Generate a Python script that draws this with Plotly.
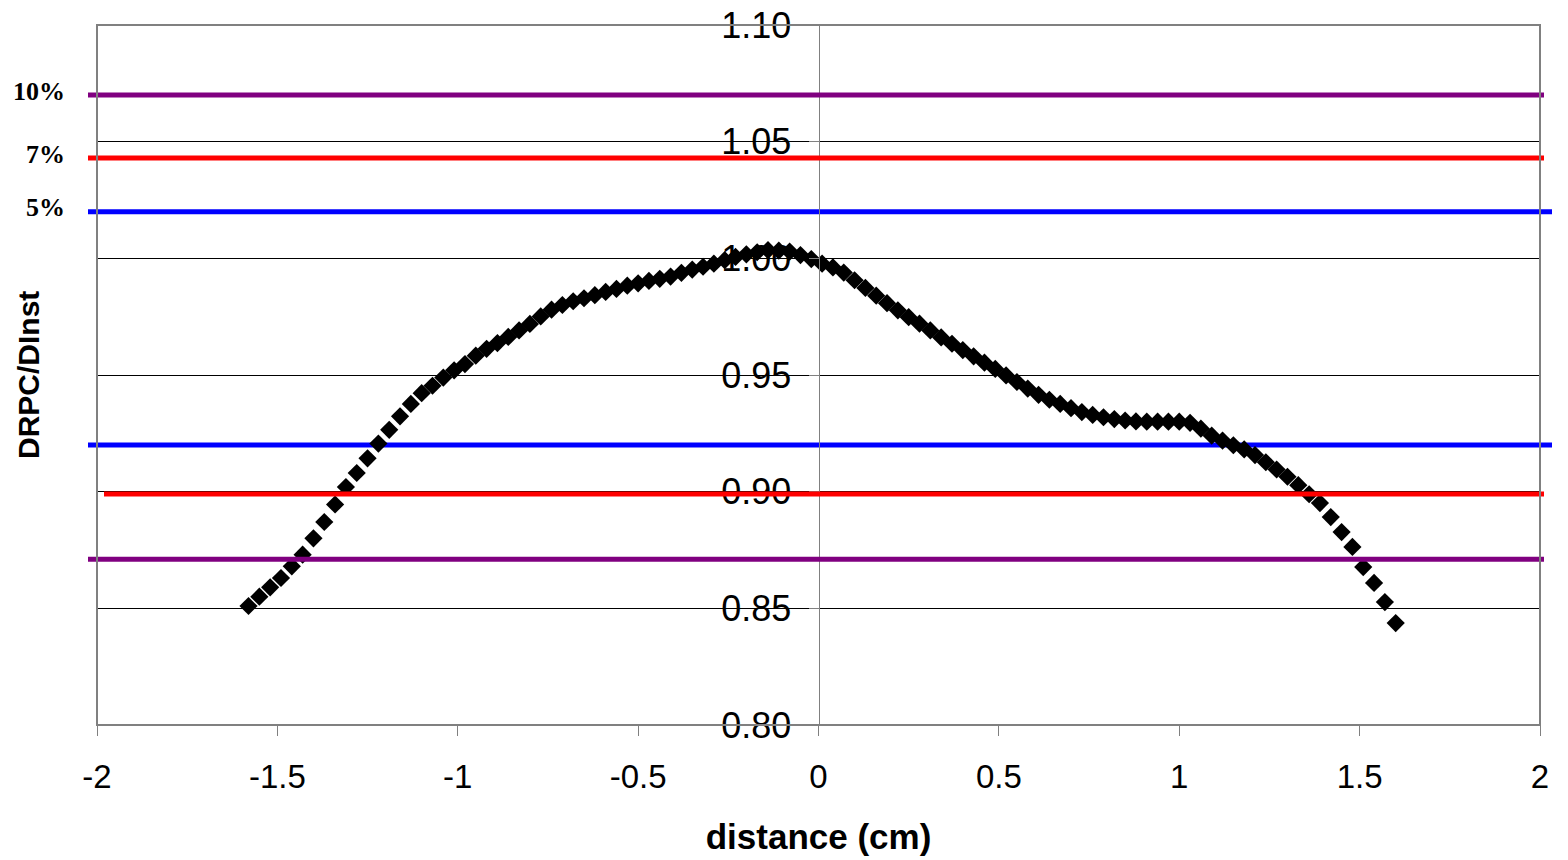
import plotly.graph_objects as go

# ---- data ----
distance_cm = [-1.58, -1.55, -1.52, -1.49, -1.46, -1.43, -1.40, -1.37, -1.34, -1.31,
               -1.28, -1.25, -1.22, -1.19, -1.16, -1.13, -1.10, -1.07, -1.04, -1.01,
               -0.98, -0.95, -0.92, -0.89, -0.86, -0.83, -0.80, -0.77, -0.74, -0.71,
               -0.68, -0.65, -0.62, -0.59, -0.56, -0.53, -0.50, -0.47, -0.44, -0.41,
               -0.38, -0.35, -0.32, -0.29, -0.26, -0.23, -0.20, -0.17, -0.14, -0.11,
               -0.08, -0.05, -0.02, 0.01, 0.04, 0.07, 0.10, 0.13, 0.16, 0.19,
               0.22, 0.25, 0.28, 0.31, 0.34, 0.37, 0.40, 0.43, 0.46, 0.49,
               0.52, 0.55, 0.58, 0.61, 0.64, 0.67, 0.70, 0.73, 0.76, 0.79,
               0.82, 0.85, 0.88, 0.91, 0.94, 0.97, 1.00, 1.03, 1.06, 1.09,
               1.12, 1.15, 1.18, 1.21, 1.24, 1.27, 1.30, 1.33, 1.36, 1.39,
               1.42, 1.45, 1.48, 1.51, 1.54, 1.57, 1.60]

ratio = [0.851, 0.855, 0.859, 0.863, 0.868, 0.873, 0.880, 0.887, 0.8945, 0.902,
         0.908, 0.9143, 0.9206, 0.9265, 0.9323, 0.9376, 0.9422, 0.9454, 0.9489, 0.952,
         0.9547, 0.9583, 0.9612, 0.9637, 0.9663, 0.9691, 0.9719, 0.9751, 0.978, 0.980,
         0.9816, 0.9829, 0.9842, 0.9856, 0.9869, 0.9883, 0.9893, 0.9903, 0.9912, 0.9922,
         0.9938, 0.9952, 0.9964, 0.9977, 0.9992, 1.0006, 1.0017, 1.0026, 1.0035, 1.0033,
         1.0029, 1.0014, 0.9997, 0.9977, 0.9961, 0.9939, 0.9906, 0.9873, 0.984, 0.9808,
         0.9777, 0.9748, 0.972, 0.9691, 0.9661, 0.9634, 0.9607, 0.958, 0.9553, 0.9526,
         0.9498, 0.947, 0.9442, 0.9415, 0.9394, 0.9376, 0.9358, 0.9341, 0.9329, 0.9319,
         0.9311, 0.9305, 0.9301, 0.930, 0.930, 0.930, 0.930, 0.9295, 0.927, 0.924,
         0.9219, 0.9199, 0.9181, 0.9157, 0.9126, 0.9095, 0.9064, 0.9028, 0.8989, 0.8951,
         0.8891, 0.8827, 0.8763, 0.8677, 0.8609, 0.8527, 0.8437]

limit_values = [1.070, 1.043, 1.020, 0.920, 0.899, 0.871]
limit_colors = ["#800080", "#FF0000", "#0000FF", "#0000FF", "#FF0000", "#800080"]
limit_labels = ["10%", "7%", "5%", None, None, None]

x_tickvals = [-2, -1.5, -1, -0.5, 0, 0.5, 1, 1.5, 2]
x_ticktext = ["-2", "-1.5", "-1", "-0.5", "0", "0.5", "1", "1.5", "2"]
y_tickvals = [0.80, 0.85, 0.90, 0.95, 1.00, 1.05, 1.10]
y_ticktext = ["0.80", "0.85", "0.90", "0.95", "1.00", "1.05", "1.10"]

# ---- layout geometry ----
W, H = 1568, 860
ML, MR, MT, MB = 97, 28, 25, 135
PW = W - ML - MR


def px_to_paper(px):
    return (px - ML) / PW


# horizontal extents (pixels) of each limit line
limit_px = [(88, 1544), (88, 1544), (88, 1552), (88, 1552), (104, 1544), (88, 1544)]

SANS = "Arial, Liberation Sans, sans-serif"
SERIF = "Times New Roman, Liberation Serif, serif"

fig = go.Figure()

fig.add_trace(go.Scatter(
    x=distance_cm, y=ratio, mode="markers",
    marker=dict(symbol="diamond", size=14, color="black", line=dict(width=0)),
    showlegend=False, cliponaxis=False,
))

shapes = []
annotations = []
for val, col, lab, (p0, p1) in zip(limit_values, limit_colors, limit_labels, limit_px):
    shapes.append(dict(
        type="line", xref="paper", yref="y",
        x0=px_to_paper(p0), x1=px_to_paper(p1), y0=val, y1=val,
        line=dict(color=col, width=5),
        layer="below" if col == "#0000FF" else "above",
    ))
    if lab:
        annotations.append(dict(
            text="<b>%s</b>" % lab, xref="paper", yref="y",
            x=px_to_paper(67), y=val, xanchor="right", yanchor="middle", yshift=4,
            showarrow=False, font=dict(family=SERIF, size=26, color="black"),
        ))

# plot area frame
shapes.append(dict(
    type="rect", xref="x domain", yref="y domain", x0=0, x1=1, y0=0, y1=1,
    line=dict(color="#808080", width=2), layer="above",
))

annotations.append(dict(
    text="<b>DRPC/DInst</b>", xref="paper", yref="paper",
    x=px_to_paper(28), y=0.5, xanchor="center", yanchor="middle", textangle=-90,
    showarrow=False, font=dict(family=SANS, size=30, color="black"),
))

fig.update_layout(
    width=W, height=H,
    margin=dict(l=ML, r=MR, t=MT, b=MB, autoexpand=False),
    paper_bgcolor="white", plot_bgcolor="white",
    shapes=shapes, annotations=annotations,
    xaxis=dict(
        range=[-2, 2], domain=[0, 1],
        tickvals=x_tickvals, ticktext=x_ticktext,
        ticks="outside", ticklen=10, tickcolor="#808080", tickwidth=1,
        ticklabelstandoff=12,
        showgrid=False, zeroline=False, showline=False,
        tickfont=dict(family=SANS, size=33, color="black"),
        title=dict(text="<b>distance (cm)</b>", standoff=30,
                   font=dict(family=SANS, size=35, color="black")),
    ),
    yaxis=dict(
        range=[0.80, 1.10], anchor="free", position=0.5,
        tickvals=y_tickvals, ticktext=y_ticktext,
        ticks="outside", ticklen=10, tickcolor="#808080", tickwidth=1,
        ticklabelstandoff=10,
        showgrid=True, gridcolor="black", gridwidth=1,
        zeroline=False, showline=True, linecolor="#808080", linewidth=1,
        tickfont=dict(family=SANS, size=36, color="black"),
    ),
)

fig.write_html("out.html", config={"displayModeBar": False},
               post_script="document.body.style.margin='0';document.body.style.overflow='hidden';")
